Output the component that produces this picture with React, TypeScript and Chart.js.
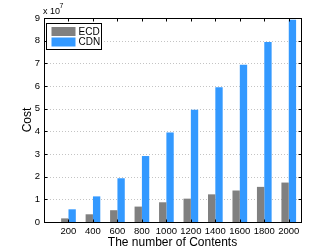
import React, { useEffect, useRef } from "react";
import { Chart, registerables } from "chart.js";

Chart.register(...registerables);

const categories = [200, 400, 600, 800, 1000, 1200, 1400, 1600, 1800, 2000];
const ecdValues = [0.16, 0.34, 0.52, 0.68, 0.87, 1.03, 1.22, 1.39, 1.55, 1.74];
const cdnValues = [0.56, 1.13, 1.93, 2.91, 3.95, 4.95, 5.94, 6.94, 7.94, 8.92];
const seriesNames = ["ECD", "CDN"];
const seriesColors = ["#808080", "#3399FF"];
const yTicks = [0, 1, 2, 3, 4, 5, 6, 7, 8, 9];

const FONT = "'Liberation Sans', Arial, Helvetica, sans-serif";

const decorPlugin = {
  id: "matlabDecor",
  beforeDatasetsDraw(chart: any) {
    const { ctx, chartArea: a, scales } = chart;
    const y = scales.y;
    ctx.save();
    ctx.strokeStyle = "#c4c4c4";
    ctx.lineWidth = 1;
    ctx.setLineDash([1, 2]);
    yTicks.forEach((v) => {
      if (v === 0 || v === 9) return;
      const py = Math.round(y.getPixelForValue(v)) + 0.5;
      ctx.beginPath();
      ctx.moveTo(a.left, py);
      ctx.lineTo(a.right, py);
      ctx.stroke();
    });
    ctx.restore();
  },
  afterDatasetsDraw(chart: any) {
    const { ctx, chartArea: a, scales } = chart;
    const x = scales.x;
    const y = scales.y;
    const L = Math.round(a.left) + 0.5;
    const R = Math.round(a.right) + 0.5;
    const T = Math.round(a.top) + 0.5;
    const B = Math.round(a.bottom) + 0.5;
    ctx.save();
    ctx.strokeStyle = "#000";
    ctx.lineWidth = 1;
    ctx.setLineDash([]);
    ctx.strokeRect(L, T, R - L, B - T);
    const tl = 3;
    ctx.beginPath();
    yTicks.forEach((v) => {
      const py = Math.round(y.getPixelForValue(v)) + 0.5;
      ctx.moveTo(L, py);
      ctx.lineTo(L + tl, py);
      ctx.moveTo(R, py);
      ctx.lineTo(R - tl, py);
    });
    categories.forEach((c) => {
      const px = Math.round(x.getPixelForValue(c)) + 0.5;
      ctx.moveTo(px, T);
      ctx.lineTo(px, T + tl);
      ctx.moveTo(px, B);
      ctx.lineTo(px, B - tl);
    });
    ctx.stroke();

    // exponent label
    ctx.fillStyle = "#000";
    ctx.textBaseline = "alphabetic";
    ctx.textAlign = "left";
    ctx.font = `9px ${FONT}`;
    ctx.fillText("x 10", a.left - 1, a.top - 4);
    ctx.font = `7px ${FONT}`;
    ctx.fillText("7", a.left + 15.5, a.top - 10);

    // legend
    const lx = Math.round(a.left) + 2.5;
    const ly = Math.round(a.top) + 5.5;
    const lw = 55;
    const lh = 26;
    ctx.fillStyle = "#fff";
    ctx.fillRect(lx, ly, lw, lh);
    ctx.strokeStyle = "#000";
    ctx.strokeRect(lx, ly, lw, lh);
    ctx.font = `10px ${FONT}`;
    ctx.textBaseline = "middle";
    seriesNames.forEach((n, i) => {
      const cy = ly + 8 + i * 10.5;
      ctx.fillStyle = seriesColors[i];
      ctx.fillRect(lx + 5, cy - 4.5, 24, 9);
      ctx.fillStyle = "#000";
      ctx.fillText(n, lx + 32, cy + 0.5);
    });
    ctx.restore();
  },
};

export default function App() {
  const ref = useRef<HTMLCanvasElement | null>(null);
  useEffect(() => {
    document.body.style.margin = "0";
    const canvas = ref.current;
    if (!canvas) return;
    const chart = new Chart(canvas, {
      type: "bar",
      data: {
        datasets: [
          {
            label: seriesNames[0],
            data: categories.map((c, i) => ({ x: c, y: ecdValues[i] })),
            backgroundColor: seriesColors[0],
            borderWidth: 0,
          },
          {
            label: seriesNames[1],
            data: categories.map((c, i) => ({ x: c, y: cdnValues[i] })),
            backgroundColor: seriesColors[1],
            borderWidth: 0,
          },
        ],
      },
      options: {
        responsive: false,
        animation: false,
        devicePixelRatio: 1,
        categoryPercentage: 0.6,
        barPercentage: 1.0,
        layout: { padding: { top: 18, right: 31, left: 0, bottom: 0 } },
        plugins: {
          legend: { display: false },
          tooltip: { enabled: false },
        },
        scales: {
          x: {
            type: "linear",
            offset: false,
            min: 0,
            max: 2100,
            grid: { display: false, drawTicks: false, offset: false },
            border: { display: false },
            ticks: {
              stepSize: 200,
              includeBounds: false,
              autoSkip: false,
              maxRotation: 0,
              padding: 4,
              color: "#000",
              font: { family: FONT, size: 9.5 },
              callback: (v: any) => (v === 0 ? "" : String(v)),
            },
            title: {
              display: true,
              text: "The number of Contents",
              color: "#000",
              font: { family: FONT, size: 12 },
              padding: { top: 0, bottom: 0 },
            },
            afterFit: (s: any) => {
              s.height = 28;
            },
          },
          y: {
            min: 0,
            max: 9,
            grid: { display: false, drawTicks: false },
            border: { display: false },
            ticks: {
              stepSize: 1,
              padding: 4,
              color: "#000",
              font: { family: FONT, size: 9.5 },
            },
            title: {
              display: true,
              text: "Cost",
              color: "#000",
              font: { family: FONT, size: 12 },
              padding: { top: 20, bottom: 0 },
            },
            afterFit: (s: any) => {
              s.width = 44;
            },
          },
        },
      } as any,
      plugins: [decorPlugin],
    });
    return () => chart.destroy();
  }, []);
  return <canvas ref={ref} width={332} height={250} style={{ display: "block" }} />;
}
